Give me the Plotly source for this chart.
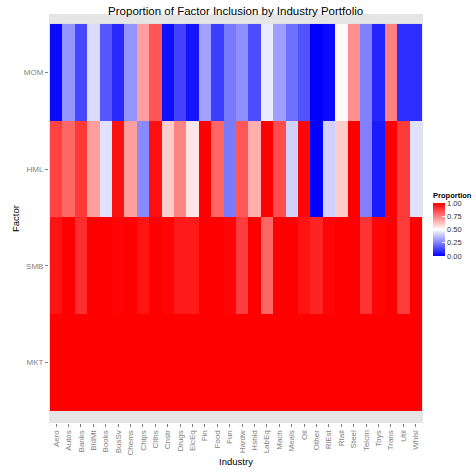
import plotly.graph_objects as go

industries = ["Aero", "Autos", "Banks", "BldMt", "Books", "BusSv", "Chems", "Chips", "Clths", "Cnstr",
              "Drugs", "ElcEq", "Fin", "Food", "Fun", "Hardw", "Hshld", "LabEq", "Mach", "Meals",
              "Oil", "Other", "RlEst", "Rtail", "Steel", "Telcm", "Toys", "Trans", "Util", "Whlsl"]
factors = ["MKT", "SMB", "HML", "MOM"]

mkt = [1.0] * 30
smb = [0.96, 1.0, 0.91, 1.0, 1.0, 0.99, 1.0, 0.96, 1.0, 0.99,
       0.95, 0.95, 1.0, 1.0, 0.99, 0.88, 1.0, 0.80, 1.0, 1.0,
       0.96, 0.93, 0.99, 1.0, 1.0, 0.90, 0.99, 1.0, 0.88, 1.0]
hml = [0.87, 0.80, 0.89, 0.69, 0.44, 0.97, 0.69, 0.27, 0.97, 0.60,
       0.74, 0.55, 1.0, 0.80, 0.24, 0.83, 0.66, 1.0, 0.85, 0.41,
       0.99, 0.0, 0.41, 0.60, 1.0, 0.25, 0.05, 1.0, 0.89, 0.44]
mom = [0.02, 0.29, 0.14, 0.43, 0.17, 0.08, 0.29, 0.69, 0.83, 0.03,
       0.13, 0.04, 0.32, 0.12, 0.24, 0.28, 0.15, 0.46, 0.31, 0.22,
       0.16, 0.0, 0.02, 0.51, 0.72, 0.25, 0.07, 0.75, 0.09, 0.09]
cbar_ticks = [0.0, 0.25, 0.5, 0.75, 1.0]
cbar_labels = ["0.00", "0.25", "0.50", "0.75", "1.00"]

z = [mkt, smb, hml, mom]

FONT = "Liberation Sans, Arial, sans-serif"

fig = go.Figure(go.Heatmap(
    x=industries, y=factors, z=z, zmin=0, zmax=1,
    colorscale=[[0, "rgb(0,0,255)"], [0.5, "rgb(255,255,255)"], [1, "rgb(255,0,0)"]],
    xgap=0, ygap=0,
    colorbar=dict(
        title=dict(text="<b>Proportion</b>", side="top", font=dict(size=7.5, color="black", family=FONT)),
        thickness=12, thicknessmode="pixels", len=67, lenmode="pixels",
        x=1.027, xanchor="left", xpad=0, y=0.49, yanchor="middle", ypad=0,
        tickvals=cbar_ticks, ticktext=cbar_labels,
        ticks="inside", ticklen=3, tickcolor="white",
        tickfont=dict(size=7.5, color="#333333", family=FONT),
        outlinewidth=0,
    ),
))

fig.update_layout(
    width=476, height=472,
    margin=dict(l=49, r=53, t=14, b=49, autoexpand=False),
    paper_bgcolor="white", plot_bgcolor="#E5E5E5",
    font=dict(family=FONT),
    title=dict(text="Proportion of Factor Inclusion by Industry Portfolio",
               x=0.495, xanchor="center", y=0.977, yanchor="middle",
               font=dict(size=11.5, color="black", family=FONT)),
    xaxis=dict(
        title=dict(text="Industry", font=dict(size=9.5, color="black"), standoff=3),
        tickangle=-90, tickfont=dict(size=8, color="#7F7F7F"),
        ticks="outside", ticklen=3, tickcolor="#7F7F7F",
        showgrid=False, zeroline=False, range=[-0.58, 29.6], automargin=False,
        categoryorder="array", categoryarray=industries,
    ),
    yaxis=dict(
        title=dict(text="Factor", font=dict(size=9.5, color="black"), standoff=2),
        tickfont=dict(size=8, color="#7F7F7F"),
        ticks="outside", ticklen=3, tickcolor="#7F7F7F",
        showgrid=False, zeroline=False, range=[-0.624, 3.603], automargin=False,
        categoryorder="array", categoryarray=factors,
    ),
)

fig.write_html("out.html", config={"displayModeBar": False},
               post_script="document.body.style.margin='0px';")
